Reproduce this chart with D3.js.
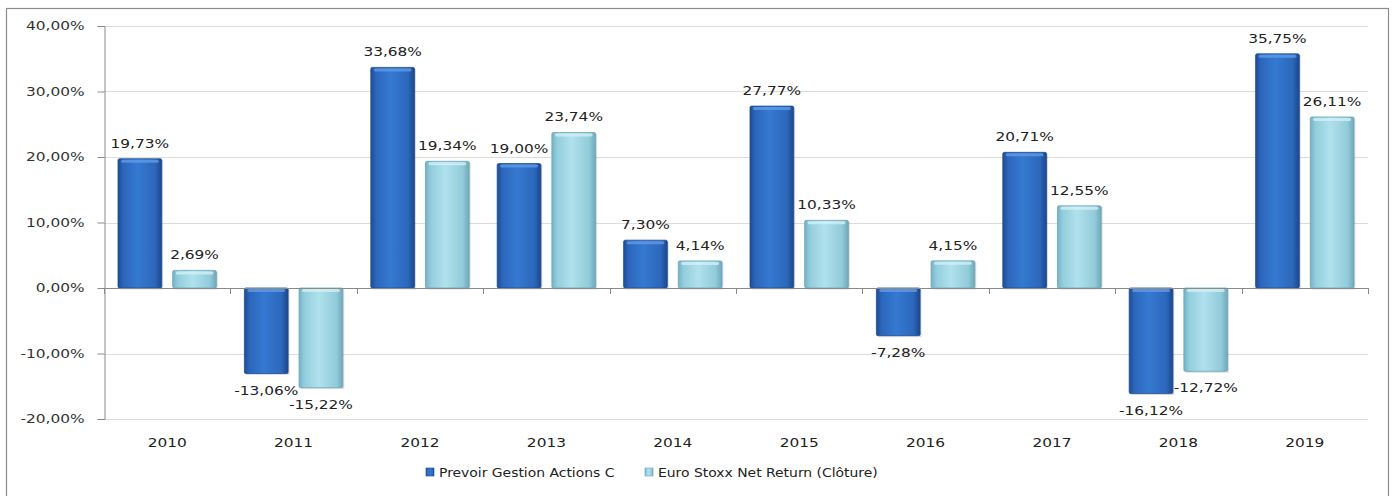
<!DOCTYPE html>
<html><head><meta charset="utf-8">
<script src="https://cdn.jsdelivr.net/npm/d3@7"></script>
<style>
html,body{margin:0;padding:0;background:#fff;}
svg{display:block;font-family:"DejaVu Sans",Verdana,sans-serif;}
</style></head>
<body>
<svg id="chart" width="1393" height="496"></svg>
<script>
const years = ["2010","2011","2012","2013","2014","2015","2016","2017","2018","2019"];
const seriesNames = ["Prevoir Gestion Actions C","Euro Stoxx Net Return (Clôture)"];
const prevoir = [19.73,-13.06,33.68,19.00,7.30,27.77,-7.28,20.71,-16.12,35.75];
const stoxx = [2.69,-15.22,19.34,23.74,4.14,10.33,4.15,12.55,-12.72,26.11];
const yTicks = [-20,-10,0,10,20,30,40];

(function(){
const svg = d3.select("#chart");
const pLeft = 104, pRight = 1368, pTop = 26, pBottom = 419;
const SX = 1.28; // horizontal stretch of text as in reference
const FS = "12px";
const fmt = v => v.toFixed(2).replace(".", ",") + "%";
const stretch = (xx, s) => `translate(${xx},0) scale(${s},1) translate(${-xx},0)`;

// gradients
const defs = svg.append("defs");
function grad(id, stops){
  const g = defs.append("linearGradient").attr("id", id).attr("x1","0").attr("x2","1").attr("y1","0").attr("y2","0");
  stops.forEach(s => g.append("stop").attr("offset", s[0]).attr("stop-color", s[1]));
}
grad("gDark", [[0,"#1d4c95"],[0.12,"#2c66bb"],[0.45,"#3579d2"],[0.85,"#2c67ba"],[1,"#1b478c"]]);
grad("gLight", [[0,"#74b2c4"],[0.12,"#93cddc"],[0.45,"#b0e1ed"],[0.85,"#92cbd9"],[1,"#6ea9ba"]]);

// outer border
svg.append("rect").attr("x",6.5).attr("y",8.5).attr("width",1382).attr("height",490)
  .attr("fill","none").attr("stroke","#8c8c8c").attr("stroke-width",1.2);

const y = d3.scaleLinear().domain([-20,40]).range([pBottom, pTop]);
const x0 = d3.scaleBand().domain(years).range([pLeft, pRight]).padding(0);
const x1 = d3.scaleBand().domain(seriesNames).range([14, x0.bandwidth()-14]).paddingInner(0.2);

// gridlines
svg.append("g").selectAll("line").data(yTicks.filter(t => t !== 0)).join("line")
  .attr("x1", pLeft).attr("x2", pRight)
  .attr("y1", d => Math.round(y(d))+0.5).attr("y2", d => Math.round(y(d))+0.5)
  .attr("stroke","#dcdcdc").attr("stroke-width",1);

// y axis
const yAxis = d3.axisLeft(y).tickValues(yTicks).tickSize(7).tickPadding(13).tickFormat(fmt);
const gy = svg.append("g").attr("transform",`translate(${pLeft+0.5},0)`).call(yAxis);
gy.attr("font-family", null).attr("font-size", null);
gy.select(".domain").attr("stroke","#8a8a8a");
gy.selectAll(".tick line").attr("stroke","#8a8a8a");
gy.selectAll(".tick text").attr("fill","#333").style("font-size",FS)
  .attr("transform", function(){ return stretch(+d3.select(this).attr("x"), SX); });

// bars
const data = years.map((yr,i) => ({year: yr, vals: [prevoir[i], stoxx[i]]}));
const groups = svg.append("g").selectAll("g").data(data).join("g")
  .attr("transform", d => `translate(${x0(d.year)},0)`);
const bars = groups.selectAll("g.bar").data(d => d.vals.map((v,k) => ({v, s: seriesNames[k], k}))).join("g").attr("class","bar");
bars.append("rect")
  .attr("x", d => x1(d.s)+1.5).attr("y", d => Math.min(y(d.v), y(0))+1.5)
  .attr("width", x1.bandwidth()).attr("height", d => Math.abs(y(d.v)-y(0)))
  .attr("fill", "rgba(0,0,0,0.12)");
bars.append("rect")
  .attr("x", d => x1(d.s)).attr("y", d => Math.min(y(d.v), y(0)))
  .attr("width", x1.bandwidth()).attr("height", d => Math.abs(y(d.v)-y(0)))
  .attr("rx", 1.5)
  .attr("fill", d => d.k === 0 ? "url(#gDark)" : "url(#gLight)")
  .attr("stroke", d => d.k === 0 ? "#1f4c8e" : "#6aa6b8").attr("stroke-width", 0.8);
// top bevel highlight
bars.append("rect")
  .attr("x", d => x1(d.s)+3).attr("y", d => Math.min(y(d.v), y(0))+1)
  .attr("width", x1.bandwidth()-6).attr("height", 3).attr("rx",1.5)
  .attr("fill", d => d.k === 0 ? "#5f9be6" : "#d2f0f6").attr("opacity",0.8);

// x axis line at 0
svg.append("line").attr("x1", pLeft).attr("x2", pRight).attr("y1", Math.round(y(0))+0.5).attr("y2", Math.round(y(0))+0.5)
  .attr("stroke","#8a8a8a");
svg.append("g").selectAll("line").data(d3.range(years.length+1)).join("line")
  .attr("x1", i => Math.round(pLeft + i*x0.step())+0.5).attr("x2", i => Math.round(pLeft + i*x0.step())+0.5)
  .attr("y1", Math.round(y(0))).attr("y2", Math.round(y(0))+6)
  .attr("stroke","#8a8a8a");

// value labels
bars.append("text")
  .attr("x", d => x1(d.s) + x1.bandwidth()/2)
  .attr("y", d => d.v >= 0 ? y(d.v) - 11 : y(d.v) + 21)
  .attr("text-anchor","middle").attr("fill","#222").style("font-size",FS)
  .attr("transform", d => stretch(x1(d.s) + x1.bandwidth()/2, SX))
  .text(d => fmt(d.v));

// year labels
svg.append("g").selectAll("text").data(years).join("text")
  .attr("x", d => x0(d) + x0.bandwidth()/2).attr("y", 447)
  .attr("text-anchor","middle").attr("fill","#222").style("font-size",FS)
  .attr("transform", d => stretch(x0(d) + x0.bandwidth()/2, SX))
  .text(d => d);

// legend
const legend = [{name: seriesNames[0], x: 426, k:0}, {name: seriesNames[1], x: 645, k:1}];
const lg = svg.append("g").selectAll("g").data(legend).join("g");
lg.append("rect").attr("x", d => d.x).attr("y", 468).attr("width", 8).attr("height", 8)
  .attr("fill", d => d.k === 0 ? "url(#gDark)" : "url(#gLight)")
  .attr("stroke", d => d.k === 0 ? "#1f4c8e" : "#6aa6b8").attr("stroke-width",0.6);
lg.append("text").attr("x", d => d.x + 13).attr("y", 477)
  .attr("fill","#222").style("font-size",FS)
  .attr("transform", d => stretch(d.x + 13, 1.16))
  .text(d => d.name);
})();
</script>
</body></html>
